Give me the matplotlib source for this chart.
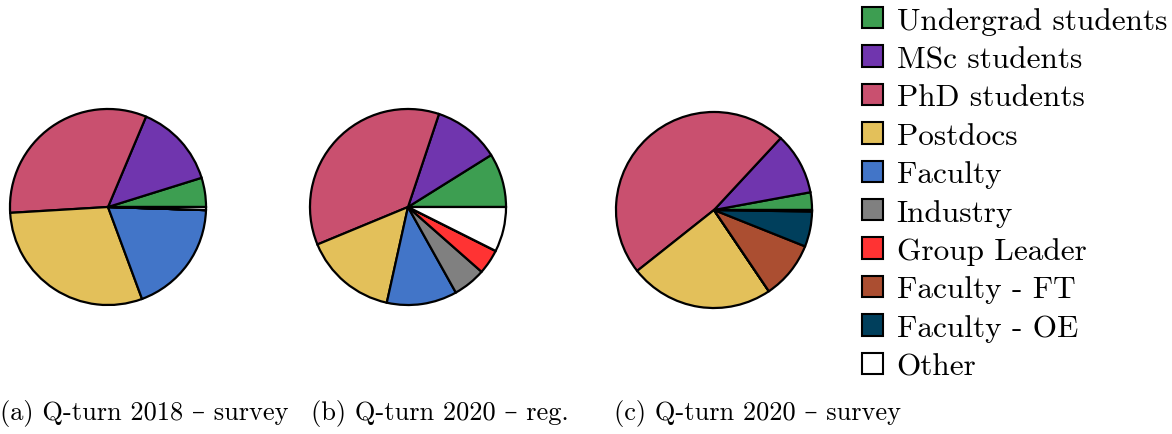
import numpy as np
import matplotlib
matplotlib.use("Agg")
from matplotlib import pyplot as plt
from matplotlib.patches import Patch

plt.rcParams['font.family'] = ['cmr10', 'DejaVu Serif']
plt.rcParams['axes.formatter.use_mathtext'] = True

categories = ['Undergrad students', 'MSc students', 'PhD students', 'Postdocs',
              'Faculty', 'Industry', 'Group Leader', 'Faculty - FT',
              'Faculty - OE', 'Other']
colors = ['#3d9e51', '#7035ae', '#c9506f', '#e3c05a', '#4275c8',
          '#808080', '#ff3333', '#ab4e31', '#003f5c', '#ffffff']

# shares in percent
survey_2018 = [4.8, 13.8, 32.2, 29.6, 18.8, 0, 0, 0, 0, 0.5]
reg_2020 = [8.9, 11.0, 36.4, 15.3, 11.6, 5.4, 4.1, 0, 0, 7.4]
survey_2020 = [2.9, 10.2, 47.6, 23.8, 0, 0, 0, 9.5, 5.8, 0.25]

captions = ['(a) Q-turn 2018 – survey', '(b) Q-turn 2020 – reg.',
            '(c) Q-turn 2020 – survey']

W, H = 1172, 435
fig = plt.figure(figsize=(W / 100, H / 100), dpi=100)

# pie centres and radius in pixels
centres = [(108, 208), (408, 208), (714, 211)]
radius = 99
caption_x = [0, 311, 614]

for data, (cx, cy), cap, tx in zip([survey_2018, reg_2020, survey_2020],
                                   centres, captions, caption_x):
    ax = fig.add_axes([(cx - radius) / W, (H - cy - radius) / H,
                       2 * radius / W, 2 * radius / H])
    vals = np.array(data, dtype=float)
    ax.pie(vals, colors=colors, startangle=0, counterclock=True,
           wedgeprops=dict(edgecolor='black', linewidth=1.6))
    ax.set_xlim(-1.01, 1.01)
    ax.set_ylim(-1.01, 1.01)
    ax.set_aspect('equal')
    ax.axis('off')
    fig.text(tx / W, 1 - 414 / H, cap, fontsize=19, va='center', ha='left')

handles = [Patch(facecolor=c, edgecolor='black', linewidth=1.5) for c in colors]
fig.legend(handles, categories, loc='upper left',
           bbox_to_anchor=(857 / W, 1 - 3 / H), frameon=False, fontsize=22.5,
           handlelength=0.67, handleheight=0.67, handletextpad=0.45,
           labelspacing=0.335, borderpad=0.15, borderaxespad=0)

fig.savefig('out.png', dpi=100)
